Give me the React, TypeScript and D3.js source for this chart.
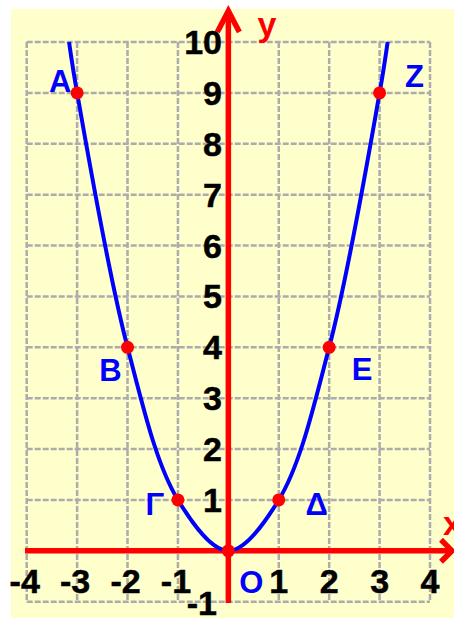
import React from "react";
import * as d3 from "d3";

// Data
const pointX = [-3, -2, -1, 0, 1, 2, 3];
const pointY = [9, 4, 1, 0, 1, 4, 9];
const pointLabels = ["Α", "Β", "Γ", "Ο", "Δ", "Ε", "Ζ"];
// curve end points where it leaves the grid at y = 10
const curveX = [-3.16, -3, -2, -1, 0, 1, 2, 3, 3.16];
const curveY = [10, 9, 4, 1, 0, 1, 4, 9, 10];
const xTickValues = [-4, -3, -2, -1, 1, 2, 3, 4];
const xTickLabels = ["-4", "-3", "-2", "-1", "1", "2", "3", "4"];
const yTickValues = [-1, 1, 2, 3, 4, 5, 6, 7, 8, 9, 10];
const yTickLabels = ["-1", "1", "2", "3", "4", "5", "6", "7", "8", "9", "10"];

const W = 454;
const H = 619;
const FONT = "'Liberation Sans', Arial, sans-serif";

// label offsets (px) relative to each point
const labelOffsets: [number, number][] = [
  [-17, -12],
  [-17, 23],
  [-23, 4],
  [23, 31],
  [38, 4],
  [33, 22],
  [35, -17],
];

export default function App() {
  const x = d3.scaleLinear().domain([-4, 4]).range([26.7, 430]);
  const y = d3.scaleLinear().domain([-1, 10]).range([601.7, 42]);

  const gridX = x.ticks(8);
  const gridY = y.ticks(11);

  const curveData = curveX.map((v, i) => [v, curveY[i]] as [number, number]);
  const line = d3
    .line<[number, number]>()
    .x((d) => x(d[0]))
    .y((d) => y(d[1]))
    .curve(d3.curveCatmullRom.alpha(0.5));

  const x0 = x(0);
  const y0 = y(0);

  return (
    <svg
      width={W}
      height={H}
      style={{ position: "absolute", left: 0, top: 0, display: "block" }}
    >
      <rect x={0} y={0} width={W} height={H} fill="#ffffff" />
      <rect x={11} y={9} width={W - 11} height={609} fill="#ffffcc" />

      {/* grid */}
      <g stroke="#acacac" strokeWidth={2.5} strokeDasharray="6,2">
        {gridX.map((v) => (
          <line key={"gx" + v} x1={x(v)} x2={x(v)} y1={y(10)} y2={y(-1)} />
        ))}
        {gridY.map((v) => (
          <line key={"gy" + v} x1={x(-4)} x2={x(4)} y1={y(v)} y2={y(v)} />
        ))}
      </g>

      {/* axes */}
      <g stroke="#ff0000" strokeWidth={5.5} fill="none" strokeLinejoin="miter">
        <line x1={25} x2={452} y1={y0} y2={y0} />
        <line x1={x0} x2={x0} y1={603} y2={11} />
        <polyline points={`${x0 - 11},32 ${x0},11 ${x0 + 11},32`} />
        <polyline points={`441,${y0 - 11} 452,${y0} 441,${y0 + 11}`} />
      </g>

      {/* curve */}
      <path d={line(curveData) || ""} fill="none" stroke="#0000ff" strokeWidth={4} />

      {/* points */}
      {pointX.map((v, i) => (
        <circle key={"p" + i} cx={x(v)} cy={y(pointY[i])} r={6.5} fill="#ff0000" />
      ))}

      {/* tick labels */}
      <g
        fontFamily={FONT}
        fontWeight="bold"
        fontSize={34}
        fill="#000"
        stroke="#000"
        strokeWidth={0.5}
      >
        {yTickValues.map((v, i) => (
          <text
            key={"yt" + v}
            x={v < 0 ? 217 : 222}
            y={v < 0 ? 615 : y(v) + 12}
            textAnchor="end"
          >
            {yTickLabels[i]}
          </text>
        ))}
        {xTickValues.map((v, i) => (
          <text key={"xt" + v} x={x(v) - (v < 0 ? 2 : 0)} y={593} textAnchor="middle">
            {xTickLabels[i]}
          </text>
        ))}
      </g>

      {/* point labels */}
      <g fontFamily={FONT} fontWeight="bold" fontSize={31} fill="#0000ff">
        {pointX.map((v, i) => (
          <text
            key={"l" + i}
            x={x(v) + labelOffsets[i][0]}
            y={y(pointY[i]) + labelOffsets[i][1] + 11}
            textAnchor="middle"
          >
            {pointLabels[i]}
          </text>
        ))}
      </g>

      {/* axis names */}
      <g fontFamily={FONT} fontWeight="bold" fontSize={34} fill="#ff0000">
        <text x={267} y={36} textAnchor="middle">y</text>
        <text x={443} y={535}>x</text>
      </g>
    </svg>
  );
}
